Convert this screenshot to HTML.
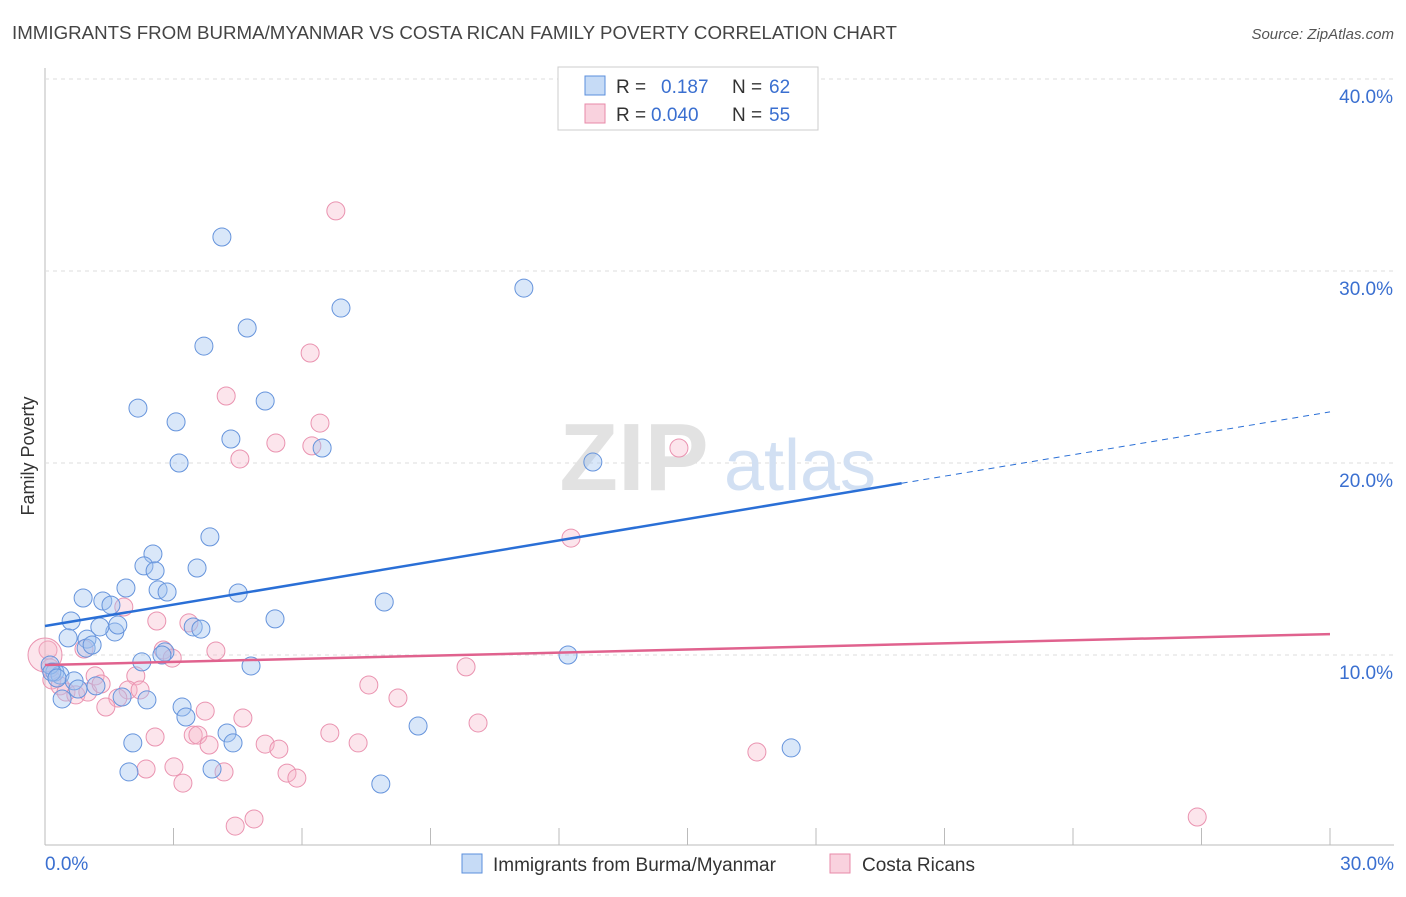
<!DOCTYPE html>
<html><head><meta charset="utf-8"><style>
body{margin:0;background:#fff;font-family:"Liberation Sans",sans-serif;}
svg text{font-family:"Liberation Sans",sans-serif;}
</style></head><body>
<svg id="chart" width="1406" height="892">
<text x="12" y="39" font-size="18" fill="#444" textLength="885" lengthAdjust="spacingAndGlyphs">IMMIGRANTS FROM BURMA/MYANMAR VS COSTA RICAN FAMILY POVERTY CORRELATION CHART</text>
<text x="1394" y="39" font-size="15" fill="#555" font-style="italic" text-anchor="end">Source: ZipAtlas.com</text>
<text transform="translate(34,456) rotate(-90)" font-size="18" fill="#333" text-anchor="middle">Family Poverty</text>
<g id="grid"></g>
<g id="watermark">
<text x="634" y="490" font-size="96" fill="#e2e2e2" font-family="Liberation Serif" text-anchor="middle" font-weight="bold">ZIP</text>
<text x="800" y="490" font-size="72" fill="#d2e0f3" text-anchor="middle">atlas</text></g>
<g id="pts"></g>
<g id="lines"></g>
<g>
<rect x="558" y="67" width="260" height="63" fill="#fff" stroke="#ccc"/>
<rect x="585" y="76" width="20" height="19" fill="rgba(160,195,240,0.6)" stroke="#5b8fdc"/>
<rect x="585" y="104" width="20" height="19" fill="rgba(245,180,200,0.6)" stroke="#e88aa8"/>
<text y="93" font-size="19" fill="#333"><tspan x="616">R =</tspan><tspan x="661" fill="#3a6fd0">0.187</tspan><tspan x="732">N =</tspan><tspan x="769" fill="#3a6fd0">62</tspan></text>
<text y="121" font-size="19" fill="#333"><tspan x="616">R =</tspan><tspan x="651" fill="#3a6fd0">0.040</tspan><tspan x="732">N =</tspan><tspan x="769" fill="#3a6fd0">55</tspan></text>
</g>
<g>
<rect x="462" y="854" width="20" height="19" fill="rgba(160,195,240,0.6)" stroke="#5b8fdc"/>
<text x="493" y="871" font-size="19" fill="#333">Immigrants from Burma/Myanmar</text>
<rect x="830" y="854" width="20" height="19" fill="rgba(245,180,200,0.6)" stroke="#e88aa8"/>
<text x="862" y="871" font-size="19" fill="#333">Costa Ricans</text>
</g>
</svg>
<script>
const xTicks=[0,3,6,9,12,15,18,21,24,27,30];
const yTicks=[10,20,30,40];
const blueX=[4.13,11.18,6.91,4.72,3.71,5.14,2.17,3.06,4.34,6.47,3.13,12.79,3.85,2.52,2.31,2.57,3.55,1.89,2.64,2.85,4.51,0.89,7.92,1.35,1.54,5.37,0.61,1.63,1.28,1.70,3.46,3.64,0.98,0.54,0.96,1.10,2.80,2.73,12.21,2.26,4.81,0.23,0.35,0.68,1.19,0.77,0.40,1.80,2.38,3.20,3.29,8.71,4.25,4.39,2.05,17.42,1.96,3.90,7.84,0.12,0.16,0.28];
const blueY=[31.77,29.11,28.07,27.03,26.09,23.23,22.86,22.14,21.25,20.78,20.0,20.05,16.15,15.26,14.64,14.38,14.53,13.49,13.39,13.28,13.23,12.97,12.76,12.81,12.6,11.88,11.77,11.2,11.46,11.56,11.46,11.35,10.83,10.89,10.36,10.52,10.16,10.0,10.0,9.64,9.43,9.11,8.96,8.65,8.39,8.23,7.71,7.81,7.66,7.29,6.77,6.30,5.94,5.42,5.42,5.16,3.91,4.06,3.28,9.48,9.11,8.80];
const pinkX=[6.79,6.19,4.23,6.42,5.39,6.23,14.80,4.55,12.28,1.84,2.61,3.36,2.76,0.91,2.97,3.99,9.83,0.07,0.16,0.35,1.17,2.12,0.49,0.72,1.0,1.31,1.94,2.22,1.70,1.42,3.74,4.62,7.56,8.24,10.11,6.65,2.57,3.46,3.57,3.83,7.31,5.14,5.46,16.62,2.36,3.01,4.18,5.65,3.22,5.88,4.88,4.44,26.9,0.12,0.0];
const pinkY=[33.13,25.73,23.49,22.08,21.04,20.89,20.78,20.21,16.09,12.5,11.77,11.67,10.26,10.31,9.84,10.21,9.38,10.26,8.70,8.39,8.91,8.91,8.07,7.92,8.07,8.49,8.18,8.18,7.76,7.29,7.08,6.72,8.44,7.76,6.46,5.94,5.73,5.83,5.83,5.31,5.42,5.36,5.10,4.95,4.06,4.17,3.91,3.85,3.33,3.59,1.46,1.09,1.56,9.32,10.0];
const blueTrend=[11.51,22.66]; const blueSolidEnd=20;
const pinkTrend=[9.48,11.09];
const X=v=>45+v*(1285/30), Y=v=>847-v*19.2;
const NS='http://www.w3.org/2000/svg';
function mk(tag,attrs,parent){const e=document.createElementNS(NS,tag);for(const k in attrs)e.setAttribute(k,attrs[k]);parent.appendChild(e);return e;}
const grid=document.getElementById('grid');
mk('line',{x1:45,y1:68,x2:45,y2:845,stroke:'#bbb'},grid);
mk('line',{x1:45,y1:845,x2:1394,y2:845,stroke:'#bbb'},grid);
yTicks.forEach(t=>{
 const l=mk('line',{x1:45,y1:Y(t),x2:1394,y2:Y(t),stroke:'#ddd','stroke-dasharray':'4,4'},grid);
 
 
 const tx=mk('text',{x:1393,y:Y(t)+24,'font-size':19,fill:'#3a6fd0','text-anchor':'end'},grid);tx.textContent=t.toFixed(1)+'%';
 
 
});
xTicks.forEach(t=>{
 const l=mk('line',{x1:X(t),y1:828,x2:X(t),y2:845,stroke:'#bbb'},grid);
 
 
});
[[0,'start',45],[30,'end',1394]].forEach(([t,a,x])=>{
 const tx=mk('text',{x:x,y:870,'font-size':19,fill:'#3a6fd0','text-anchor':a},grid);tx.textContent=t.toFixed(1)+'%';
 
 
});
const pts=document.getElementById('pts');
pinkX.forEach((v,i)=>{
 const big=i===pinkX.length-1;
 const c=mk('circle',{cx:X(v),cy:Y(pinkY[i]),r:big?17:9,fill:'rgba(245,180,200,0.35)',stroke:'#ea93b0','stroke-width':1},pts);
 
 
});
blueX.forEach((v,i)=>{
 const c=mk('circle',{cx:X(v),cy:Y(blueY[i]),r:9,fill:'rgba(160,195,240,0.4)',stroke:'#6694dc','stroke-width':1},pts);
 
 
});
const lines=document.getElementById('lines');
const by=x=>blueTrend[0]+(blueTrend[1]-blueTrend[0])*x/30;
let l1=mk('line',{x1:X(0),y1:Y(by(0)),x2:X(blueSolidEnd),y2:Y(by(blueSolidEnd)),stroke:'#2a6fd6','stroke-width':2.5},lines);


let l2=mk('line',{x1:X(blueSolidEnd),y1:Y(by(blueSolidEnd)),x2:X(30),y2:Y(by(30)),stroke:'#2a6fd6','stroke-width':1,'stroke-dasharray':'6,5'},lines);


let l3=mk('line',{x1:X(0),y1:Y(pinkTrend[0]),x2:X(30),y2:Y(pinkTrend[1]),stroke:'#e0628e','stroke-width':2.5},lines);


</script>
</body></html>
